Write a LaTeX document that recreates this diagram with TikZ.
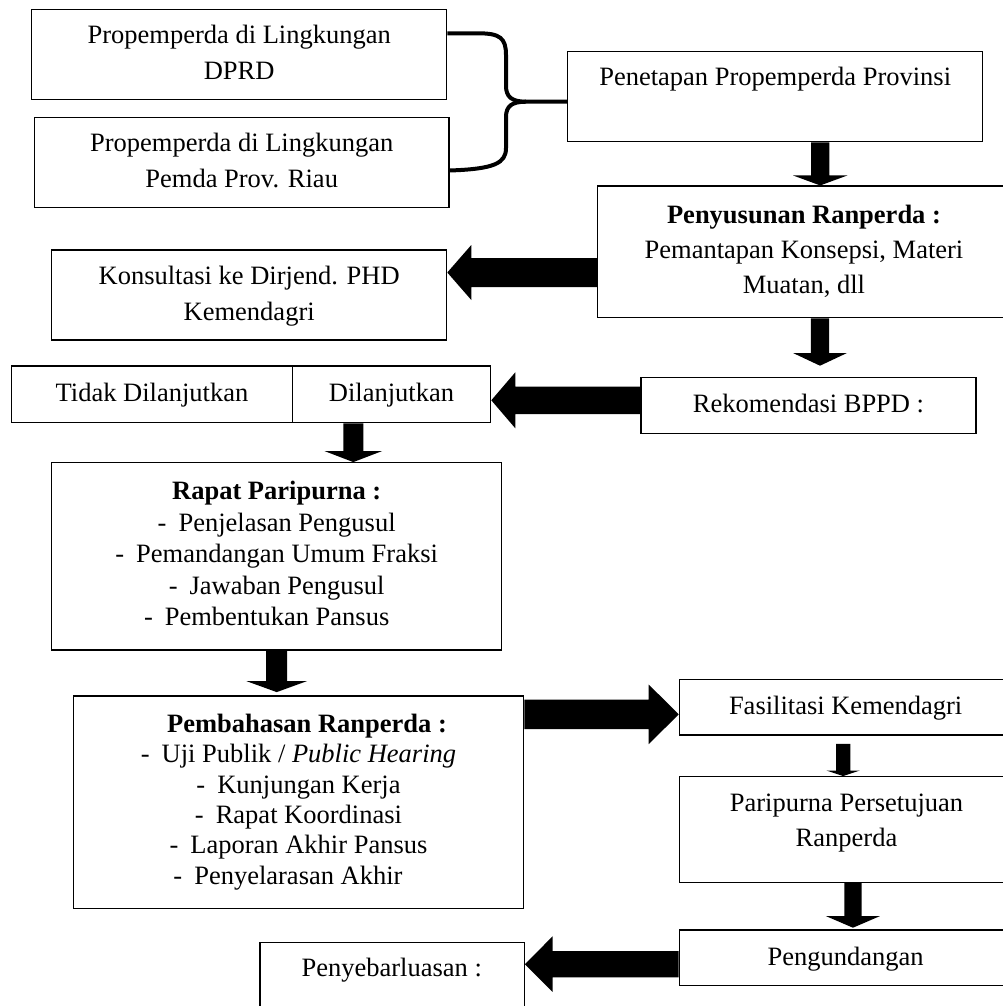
\documentclass[tikz,border=0pt]{standalone}
\usepackage{fontspec}
\setmainfont{Liberation Serif}
\usetikzlibrary{calc}
\tikzset{
  box/.style={draw=black, line width=1.2pt, inner sep=0pt, align=center,
              font=\fontsize{26.5}{36}\selectfont},
  txt/.style={inner sep=0pt, align=center, font=\fontsize{26.5}{36}\selectfont},
  brace/.style={line width=4pt, line cap=butt, line join=round},
  blockarr/.style={fill=black}
}
% block arrows: #1 start, #2 tip, #3 shaft half width, #4 head half width, #5 head length
\newcommand\arrdown[5]{%
  \path[blockarr] let \p1=(#1), \p2=(#2) in
    (\x1-#3,\y1) -- (\x1+#3,\y1) -- (\x1+#3,\y2+#5) -- (\x1+#4,\y2+#5)
    -- (\x1,\y2) -- (\x1-#4,\y2+#5) -- (\x1-#3,\y2+#5) -- cycle;}
\newcommand\arrleft[5]{%
  \path[blockarr] let \p1=(#1), \p2=(#2) in
    (\x1,\y1+#3) -- (\x1,\y1-#3) -- (\x2+#5,\y1-#3) -- (\x2+#5,\y1-#4)
    -- (\x2,\y1) -- (\x2+#5,\y1+#4) -- (\x2+#5,\y1+#3) -- cycle;}
\newcommand\arrright[5]{%
  \path[blockarr] let \p1=(#1), \p2=(#2) in
    (\x1,\y1+#3) -- (\x1,\y1-#3) -- (\x2-#5,\y1-#3) -- (\x2-#5,\y1-#4)
    -- (\x2,\y1) -- (\x2-#5,\y1+#4) -- (\x2-#5,\y1+#3) -- cycle;}
\begin{document}
\begin{tikzpicture}[x=1pt,y=-1pt]
\useasboundingbox (0,0) rectangle (1003,1006);

% boxes
\node[box, minimum width=415pt, minimum height=90pt] (b1) at (239.2,54.3)
  {\strut Propemperda di Lingkungan\\\strut DPRD};
\node[box, minimum width=414.7pt, minimum height=90.4pt] (b2) at (241.7,162.5)
  {\strut Propemperda di Lingkungan\\\strut Pemda Prov. Riau};
\node[box, minimum width=415pt, minimum height=90pt] (pen) at (775.2,96.7)
  {\strut Penetapan Propemperda Provinsi\\\strut};
\node[box, minimum width=412.6pt, minimum height=131.7pt,
      font=\fontsize{26.5}{35}\selectfont] (pyu) at (804,251.9)
  {\strut\textbf{Penyusunan Ranperda :}\\\strut Pemantapan Konsepsi, Materi\\\strut Muatan, dll};
\node[box, minimum width=395pt, minimum height=90pt] (kon) at (249.2,295)
  {\strut Konsultasi ke Dirjend. PHD\\\strut Kemendagri};
\node[box, minimum width=280.6pt, minimum height=56.7pt] (tidak) at (152,394.35)
  {\strut Tidak Dilanjutkan};
\node[box, minimum width=198.4pt, minimum height=56.7pt] (dil) at (391.5,394.35)
  {\strut Dilanjutkan};
\node[box, minimum width=335pt, minimum height=56pt] (rek) at (808.5,405.3)
  {\strut Rekomendasi BPPD :};
\node[box, minimum width=450pt, minimum height=187.3pt,
      font=\fontsize{26.5}{31.5}\selectfont] (rap) at (276.7,556.35)
  {\strut\textbf{Rapat Paripurna :}\\
   \strut -\hspace{12pt}Penjelasan Pengusul\hspace*{20pt}\\
   \strut -\hspace{12pt}Pemandangan Umum Fraksi\hspace*{20pt}\\
   \strut -\hspace{12pt}Jawaban Pengusul\hspace*{20pt}\\
   \strut -\hspace{12pt}Pembentukan Pansus\hspace*{20pt}};
\node[box, minimum width=450.4pt, minimum height=212.3pt,
      font=\fontsize{26.5}{30.4}\selectfont] (pem) at (298.5,802.15)
  {\strut\hspace*{17pt}\textbf{Pembahasan Ranperda :}\\
   \strut -\hspace{12pt}Uji Publik / \textit{Public Hearing}\hspace*{21pt}\\
   \strut -\hspace{12pt}Kunjungan Kerja\hspace*{21pt}\\
   \strut -\hspace{12pt}Rapat Koordinasi\hspace*{21pt}\\
   \strut -\hspace{12pt}Laporan Akhir Pansus\hspace*{21pt}\\
   \strut -\hspace{12pt}Penyelarasan Akhir\hspace*{21pt}};
\node[box, minimum width=332.7pt, minimum height=55.7pt] (fas) at (845.65,707.15)
  {\strut Fasilitasi Kemendagri};
\node[box, minimum width=332.7pt, minimum height=105.6pt] (ppp) at (845.65,829.5) {};
\node[txt, font=\fontsize{26.5}{35}\selectfont] (ppptext) at (846.5,822.2)
  {\strut Paripurna Persetujuan\\\strut Ranperda};
\node[box, minimum width=332.7pt, minimum height=55.7pt] (pgd) at (845.65,957.85)
  {\strut Pengundangan};
\node[box, minimum width=264.3pt, minimum height=87.7pt] (pyb) at (392.15,986.15) {};
\node[txt] (pybtext) at (391.7,968.8) {\strut Penyebarluasan :};

% brace joining the two Propemperda boxes to Penetapan
\draw[brace] ([yshift=21pt]b1.east) -- (478,33.3)
  .. controls (500,33.3) and (506,38) .. (506,55) -- (506,86)
  .. controls (506,97) and (512,101.7) .. (526,101.7) -- ([yshift=-5pt]pen.west);
\draw[brace] (526,101.7) .. controls (512,101.7) and (506,106) .. (506,117)
  -- (506,148) .. controls (506,163) and (495,169) .. ([yshift=-8pt]b2.east);

% block arrows
\arrdown{[xshift=45pt]pen.south}{pyu.north}{9.2pt}{27.2pt}{10pt}
\arrdown{[xshift=16pt]pyu.south}{[yshift=11pt]rek.north}{9.2pt}{27pt}{12.7pt}
\arrleft{[yshift=-20.6pt]pyu.west}{kon.east}{14.5pt}{27.5pt}{24pt}
\arrleft{[yshift=5pt]rek.west}{dil.east}{13.7pt}{28pt}{24pt}
\arrdown{[xshift=-38.2pt]dil.south}{rap.north}{10pt}{28.7pt}{11pt}
\arrdown{rap.south}{[yshift=3.3pt]pem.north}{10.5pt}{30.3pt}{11pt}
\arrright{[yshift=87.8pt]pem.east}{fas.west}{14.85pt}{29.85pt}{30pt}
\arrdown{[xshift=-2.5pt,yshift=-8.3pt]fas.south}{ppp.north}{7.15pt}{16.7pt}{5.6pt}
\arrdown{[xshift=7.3pt]ppp.south}{[yshift=1.7pt]pgd.north}{8.7pt}{27pt}{11.6pt}
\arrleft{[yshift=-6.3pt]pgd.west}{pyb.east}{13.15pt}{27.8pt}{27.7pt}
\end{tikzpicture}
\end{document}
